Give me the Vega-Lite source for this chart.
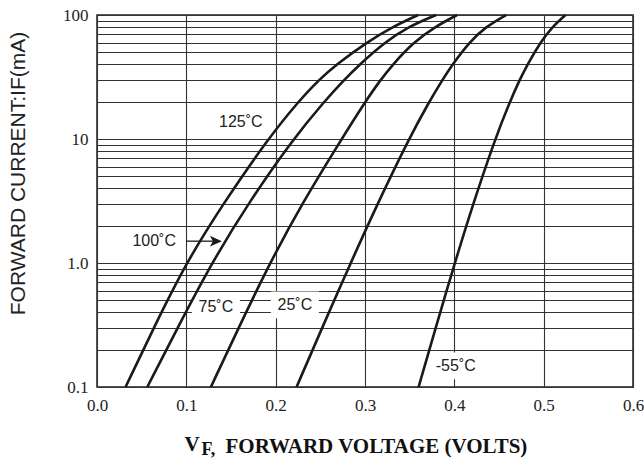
{
  "$schema": "https://vega.github.io/schema/vega-lite/v6.json",
  "autosize": {"type": "none"},
  "padding": {"left": 97, "top": 15, "right": 11, "bottom": 72},
  "width": 536,
  "height": 372,
  "background": "white",
  "config": {"view": {"stroke": "#222", "strokeWidth": 1.5}},
  "datasets": {
    "curves": [
      {"series": "125", "V": 0.032, "I": 0.1},
      {"series": "125", "V": 0.0635, "I": 0.3},
      {"series": "125", "V": 0.0996, "I": 1},
      {"series": "125", "V": 0.1411, "I": 3},
      {"series": "125", "V": 0.1913, "I": 10},
      {"series": "125", "V": 0.2253, "I": 20},
      {"series": "125", "V": 0.2484, "I": 30},
      {"series": "125", "V": 0.2682, "I": 40},
      {"series": "125", "V": 0.3016, "I": 60},
      {"series": "125", "V": 0.3304, "I": 80},
      {"series": "125", "V": 0.3595, "I": 100},
      {"series": "100", "V": 0.0563, "I": 0.1},
      {"series": "100", "V": 0.0902, "I": 0.3},
      {"series": "100", "V": 0.1284, "I": 1},
      {"series": "100", "V": 0.1689, "I": 3},
      {"series": "100", "V": 0.2196, "I": 10},
      {"series": "100", "V": 0.2542, "I": 20},
      {"series": "100", "V": 0.2767, "I": 30},
      {"series": "100", "V": 0.2942, "I": 40},
      {"series": "100", "V": 0.322, "I": 60},
      {"series": "100", "V": 0.3476, "I": 80},
      {"series": "100", "V": 0.3796, "I": 100},
      {"series": "75", "V": 0.1275, "I": 0.1},
      {"series": "75", "V": 0.1585, "I": 0.3},
      {"series": "75", "V": 0.1935, "I": 1},
      {"series": "75", "V": 0.2293, "I": 3},
      {"series": "75", "V": 0.2738, "I": 10},
      {"series": "75", "V": 0.3003, "I": 20},
      {"series": "75", "V": 0.3174, "I": 30},
      {"series": "75", "V": 0.3312, "I": 40},
      {"series": "75", "V": 0.3541, "I": 60},
      {"series": "75", "V": 0.3779, "I": 80},
      {"series": "75", "V": 0.4031, "I": 100},
      {"series": "25", "V": 0.2234, "I": 0.1},
      {"series": "25", "V": 0.252, "I": 0.3},
      {"series": "25", "V": 0.2839, "I": 1},
      {"series": "25", "V": 0.314, "I": 3},
      {"series": "25", "V": 0.349, "I": 10},
      {"series": "25", "V": 0.3719, "I": 20},
      {"series": "25", "V": 0.3867, "I": 30},
      {"series": "25", "V": 0.398, "I": 40},
      {"series": "25", "V": 0.4165, "I": 60},
      {"series": "25", "V": 0.4346, "I": 80},
      {"series": "25", "V": 0.4579, "I": 100},
      {"series": "-55", "V": 0.36, "I": 0.1},
      {"series": "-55", "V": 0.3791, "I": 0.3},
      {"series": "-55", "V": 0.4005, "I": 1},
      {"series": "-55", "V": 0.421, "I": 3},
      {"series": "-55", "V": 0.4456, "I": 10},
      {"series": "-55", "V": 0.4622, "I": 20},
      {"series": "-55", "V": 0.4731, "I": 30},
      {"series": "-55", "V": 0.4819, "I": 40},
      {"series": "-55", "V": 0.4963, "I": 60},
      {"series": "-55", "V": 0.5094, "I": 80},
      {"series": "-55", "V": 0.5244, "I": 100}
    ],
    "labels": [
      {"label": "125˚C", "V": 0.161, "I": 13.7, "gap": false},
      {"label": "100˚C", "V": 0.064, "I": 1.5, "gap": false},
      {"label": "75˚C", "V": 0.1331, "I": 0.44, "gap": true},
      {"label": "25˚C", "V": 0.2215, "I": 0.46, "gap": true},
      {"label": "-55˚C", "V": 0.4016, "I": 0.148, "gap": true}
    ],
    "arrow": [
      {"x1": 0.0996, "x2": 0.13, "xh": 0.1331, "y": 1.5}
    ]
  },
  "layer": [
    {
      "data": {"name": "labels"},
      "transform": [{"filter": "datum.gap"}],
      "mark": {"type": "point", "filled": true, "color": "white", "opacity": 1, "shape": "M-1,-0.56H1V0.56H-1Z", "size": 2304},
      "encoding": {
        "x": {
          "field": "V", "type": "quantitative",
          "scale": {"domain": [0, 0.6], "nice": false, "zero": false},
          "axis": {
            "orient": "bottom",
            "values": [0, 0.1, 0.2, 0.3, 0.4, 0.5, 0.6],
            "format": ".1f",
            "grid": true, "gridColor": "#333", "gridWidth": 1.1, "gridOpacity": 1,
            "ticks": false, "domain": false,
            "labelFont": "Liberation Serif", "labelFontSize": 17, "labelColor": "#222",
            "labelPadding": 10, "labelFlush": false, "labelOverlap": false,
            "title": "V",
            "titleFont": "Liberation Serif", "titleFontWeight": "bold", "titleFontSize": 21, "titleColor": "#111",
            "titleAlign": "left", "titleBaseline": "alphabetic", "titleX": 87, "titleY": 63
          }
        },
        "y": {
          "field": "I", "type": "quantitative",
          "scale": {"type": "log", "domain": [0.1, 100], "nice": false},
          "axis": {
            "values": [0.1, 0.2, 0.3, 0.4, 0.5, 0.6, 0.7, 0.8, 0.9, 1, 2, 3, 4, 5, 6, 7, 8, 9, 10, 20, 30, 40, 50, 60, 70, 80, 90, 100],
            "labelExpr": "datum.value == 100 ? '100' : datum.value == 10 ? '10' : datum.value == 1 ? '1.0' : datum.value == 0.1 ? '0.1' : ''",
            "grid": true, "gridColor": "#333", "gridWidth": 1.1, "gridOpacity": 1,
            "ticks": false, "domain": false,
            "labelFont": "Liberation Serif", "labelFontSize": 17, "labelColor": "#222",
            "labelPadding": 9, "labelFlush": false, "labelOverlap": false, "labelBaseline": "middle",
            "title": "FORWARD CURRENT:IF(mA)",
            "titleFont": "Liberation Sans", "titleFontWeight": "normal", "titleFontSize": 21, "titleColor": "#222",
            "titleAngle": -90, "titleAlign": "center", "titleBaseline": "middle", "titleX": -79, "titleY": 158
          }
        }
      }
    },
    {
      "data": {"name": "curves"},
      "mark": {"type": "line", "color": "#1a1a1a", "strokeWidth": 2.6, "interpolate": "basis"},
      "encoding": {
        "x": {
          "field": "V", "type": "quantitative",
          "axis": {
            "orient": "bottom",
            "grid": false, "labels": false, "ticks": false, "domain": false,
            "title": "F,",
            "titleFont": "Liberation Serif", "titleFontWeight": "bold", "titleFontSize": 18, "titleColor": "#111",
            "titleAlign": "left", "titleBaseline": "alphabetic", "titleX": 104, "titleY": 67
          }
        },
        "y": {"field": "I", "type": "quantitative"},
        "detail": {"field": "series"}
      }
    },
    {
      "data": {"name": "labels"},
      "mark": {"type": "text", "font": "Liberation Sans", "fontSize": 16, "color": "#222", "align": "center", "baseline": "middle"},
      "encoding": {
        "x": {
          "field": "V", "type": "quantitative",
          "axis": {
            "orient": "bottom",
            "grid": false, "labels": false, "ticks": false, "domain": false,
            "title": "FORWARD VOLTAGE (VOLTS)",
            "titleFont": "Liberation Serif", "titleFontWeight": "bold", "titleFontSize": 21, "titleColor": "#111",
            "titleAlign": "left", "titleBaseline": "alphabetic", "titleX": 128, "titleY": 65
          }
        },
        "y": {"field": "I", "type": "quantitative"},
        "text": {"field": "label"}
      }
    },
    {
      "data": {"name": "arrow"},
      "mark": {"type": "rule", "color": "#1a1a1a", "strokeWidth": 1.3},
      "encoding": {
        "x": {"field": "x1", "type": "quantitative", "axis": null},
        "x2": {"field": "x2"},
        "y": {"field": "y", "type": "quantitative"}
      }
    },
    {
      "data": {"name": "arrow"},
      "mark": {"type": "point", "filled": true, "color": "#1a1a1a", "opacity": 1, "shape": "M1,0L-1,-0.9L-0.5,0L-1,0.9Z", "size": 144},
      "encoding": {
        "x": {"field": "xh", "type": "quantitative", "axis": null},
        "y": {"field": "y", "type": "quantitative"}
      }
    }
  ],
  "resolve": {"axis": {"x": "independent"}}
}
